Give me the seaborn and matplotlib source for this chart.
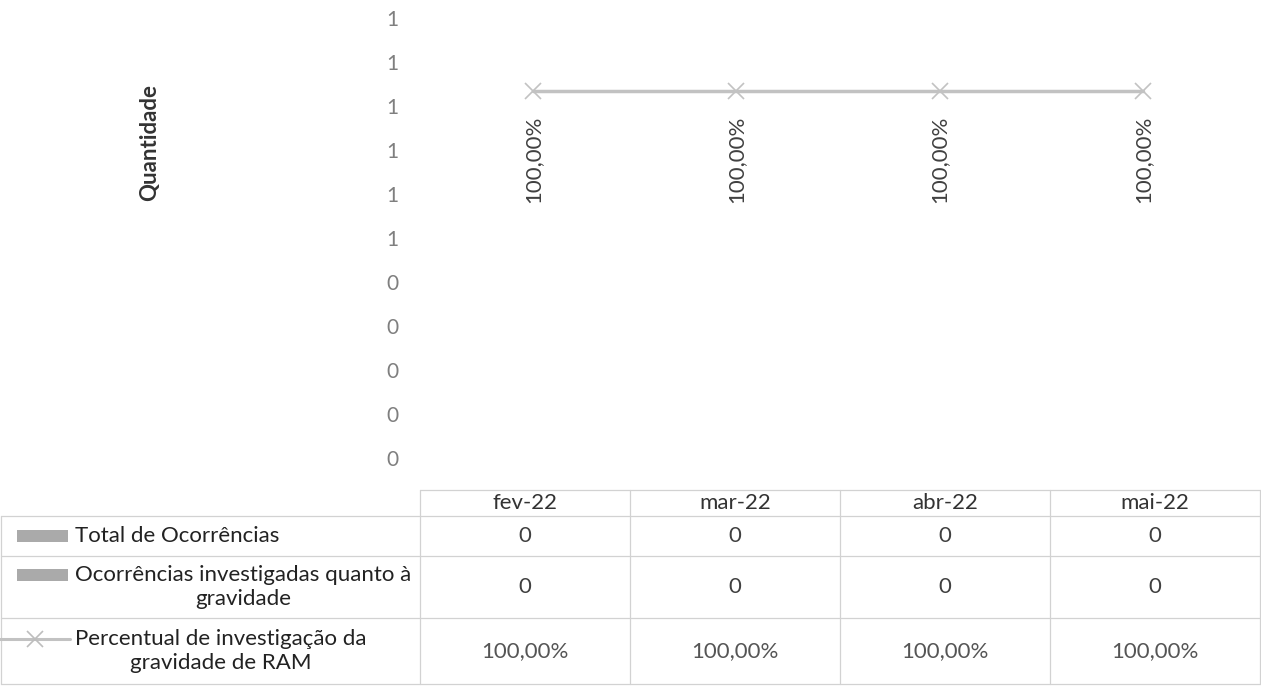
# Percentual de investigação da gravidade de RAM - gráfico com tabela de dados
import numpy as np
import pandas as pd
import matplotlib
matplotlib.use("Agg")
import matplotlib.pyplot as plt
import seaborn as sns

# dados
meses = ["fev-22", "mar-22", "abr-22", "mai-22"]
total_ocorrencias = [0, 0, 0, 0]
ocorrencias_investigadas = [0, 0, 0, 0]
percentual = [1.0, 1.0, 1.0, 1.0]
nomes_series = ["Total de Ocorrências",
                "Ocorrências investigadas quanto à\ngravidade",
                "Percentual de investigação da\ngravidade de RAM"]
y_ticks = [0, 0.1, 0.2, 0.3, 0.4, 0.5, 0.6, 0.7, 0.8, 0.9, 1.0]
y_tick_labels = ["0", "0", "0", "0", "0", "1", "1", "1", "1", "1", "1"]


def fmt_pct(v):
    return f"{v * 100:.2f}%".replace(".", ",")


df_barras = pd.DataFrame({
    "mes": meses * 2,
    "valor": total_ocorrencias + ocorrencias_investigadas,
    "serie": [nomes_series[0]] * 4 + [nomes_series[1]] * 4,
})
df_linha = pd.DataFrame({"mes": meses, "pct": percentual})

sns.set_style("white")
plt.rcParams["font.family"] = ["Lato", "DejaVu Sans"]

W, H = 1261, 686
fig = plt.figure(figsize=(W / 100, H / 100), dpi=100)

# área do gráfico (px): x 431.5..1244.5, y 18..458
ax = fig.add_axes([431.5 / W, 1 - 458 / H, 813 / W, 440 / H])
sns.barplot(data=df_barras, x="mes", y="valor", hue="serie",
            palette=["#a9a9a9", "#bdbdbd"], legend=False, ax=ax)
ax.set_ylim(0, 1)
ax.set_yticks(y_ticks)
ax.set_yticklabels(y_tick_labels)
ax.tick_params(axis="y", length=0, pad=24, labelcolor="#7f7f7f", labelsize=15)
ax.tick_params(axis="x", bottom=False, labelbottom=False)
ax.set_xlabel("")
ax.set_ylabel("Quantidade", fontweight="bold", fontsize=16, color="#333333")
ax.yaxis.set_label_coords(-0.334, 0.716)
sns.despine(ax=ax, left=True, bottom=True)

ax2 = ax.twinx()
sns.pointplot(data=df_linha, x="mes", y="pct", ax=ax2, color="#c2c2c2",
              markers="x", linestyles="-", markersize=12,
              markeredgewidth=1.2, linewidth=2.5)
ax2.set_ylim(0, 1.2)
ax2.set_yticks([])
ax2.set_ylabel("")
ax2.set_xlabel("")
ax2.tick_params(axis="x", bottom=False, labelbottom=False)
sns.despine(ax=ax2, left=True, bottom=True, right=True)
for i, v in enumerate(percentual):
    ax2.annotate(fmt_pct(v), (i, v), xytext=(0, -24), textcoords="offset pixels",
                 ha="center", va="top", rotation=90, fontsize=16, color="#404040")

# tabela de dados
tab = fig.add_axes([0, 0, 1, 1], zorder=-1)
tab.set_xlim(0, W)
tab.set_ylim(H, 0)
tab.axis("off")

col_left, col_w = 420, 210
linhas_y = [490, 516, 556, 618, 684]
cor_borda = "#d2d2d2"

tab.plot([col_left, col_left + 4 * col_w], [linhas_y[0]] * 2, color=cor_borda, lw=0.9)
for yb in linhas_y[1:]:
    tab.plot([1, col_left + 4 * col_w], [yb, yb], color=cor_borda, lw=0.9)
for k in range(5):
    xb = col_left + k * col_w
    tab.plot([xb, xb], [linhas_y[0], linhas_y[-1]], color=cor_borda, lw=0.9)
tab.plot([1, 1], [linhas_y[1], linhas_y[-1]], color=cor_borda, lw=0.9)

centros_y = [(linhas_y[r] + linhas_y[r + 1]) / 2 for r in range(4)]
for j, m in enumerate(meses):
    xc = col_left + col_w * (j + 0.5)
    tab.text(xc, centros_y[0], m, ha="center", va="center", fontsize=16, color="#333333")
    tab.text(xc, centros_y[1], str(total_ocorrencias[j]), ha="center", va="center",
             fontsize=16, color="#404040")
    tab.text(xc, centros_y[2], str(ocorrencias_investigadas[j]), ha="center", va="center",
             fontsize=16, color="#404040")
    tab.text(xc, centros_y[3], fmt_pct(percentual[j]), ha="center", va="center",
             fontsize=16, color="#555555")

# rótulos das linhas com chave da legenda
for r, nome in enumerate(nomes_series):
    yc = centros_y[r + 1]
    n_lin = nome.count("\n") + 1
    y_chave = yc - (n_lin - 1) * 12
    tab.text(75, yc, nome, ha="left", va="center", multialignment="center",
             fontsize=16, color="#222222", linespacing=1.2)
    if r < 2:
        tab.add_patch(plt.Rectangle((17, y_chave - 6), 51, 12, color="#aaaaaa", lw=0))
    else:
        tab.plot([0, 70], [y_chave, y_chave], color="#c2c2c2", lw=2.2)
        tab.plot([35], [y_chave], marker="x", color="#bdbdbd", ms=11, mew=1.2)

fig.savefig("out.png", dpi=100)
